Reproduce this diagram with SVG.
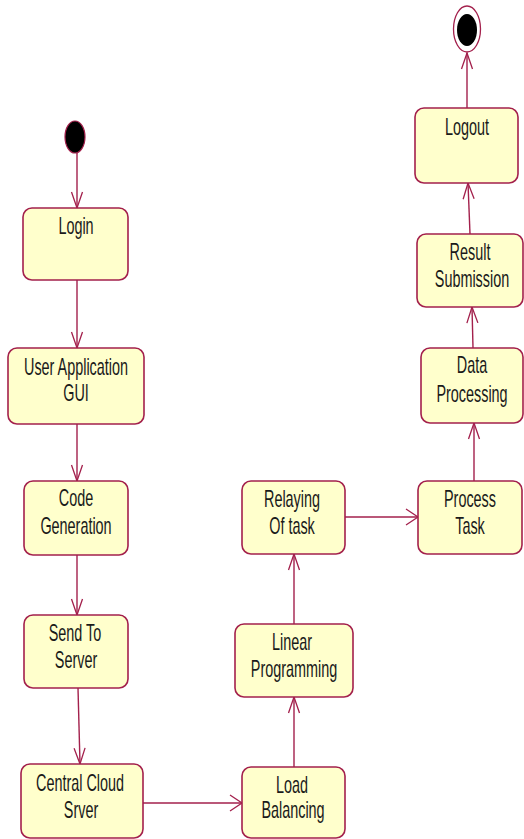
<svg xmlns="http://www.w3.org/2000/svg" width="524" height="839" viewBox="0 0 524 839">
<style>
.box{fill:#FFFFCC;stroke:#A3204C;stroke-width:1.6}
.lbl{font-family:"Liberation Sans",Arial,sans-serif;font-size:24px;fill:#1a1a1a;text-anchor:middle}
.conn{fill:none;stroke:#A3204C;stroke-width:1.4}
.start{fill:#000;stroke:#A3204C;stroke-width:1.2}
</style>
<defs>
<marker id="arrV" markerUnits="userSpaceOnUse" markerWidth="20" markerHeight="14" refX="16" refY="6" orient="auto" overflow="visible">
<path d="M0,0.5 L16,6 L0,11.5" fill="none" stroke="#A3204C" stroke-width="1.3"/>
</marker>
<marker id="arrH" markerUnits="userSpaceOnUse" markerWidth="14" markerHeight="20" refX="12" refY="8" orient="auto" overflow="visible">
<path d="M0,0 L12,8 L0,16" fill="none" stroke="#A3204C" stroke-width="1.3"/>
</marker>
</defs>
<rect width="524" height="839" fill="#fff"/>
<g id="connectors">
<path class="conn" d="M77,153 L77,208" marker-end="url(#arrV)"/>
<path class="conn" d="M77,280 L77,348" marker-end="url(#arrV)"/>
<path class="conn" d="M77,424 L77,481" marker-end="url(#arrV)"/>
<path class="conn" d="M77,555 L77,615" marker-end="url(#arrV)"/>
<path class="conn" d="M78,688 L80,764" marker-end="url(#arrV)"/>
<path class="conn" d="M143,803 L242,803" marker-end="url(#arrH)"/>
<path class="conn" d="M294,767 L294,697" marker-end="url(#arrV)"/>
<path class="conn" d="M294,624 L294,554" marker-end="url(#arrV)"/>
<path class="conn" d="M345,517 L418,517" marker-end="url(#arrH)"/>
<path class="conn" d="M474,481 L474,423" marker-end="url(#arrV)"/>
<path class="conn" d="M473,348 L472,307" marker-end="url(#arrV)"/>
<path class="conn" d="M470,234 L468,183" marker-end="url(#arrV)"/>
<path class="conn" d="M467,108 L467,53" marker-end="url(#arrV)"/>
</g>
<g id="start">
<ellipse class="start" cx="75" cy="137" rx="10" ry="16"/>
</g>
<g id="end">
<ellipse cx="467" cy="29" rx="13.5" ry="23" fill="#fff" stroke="#A3204C" stroke-width="1.3"/>
<ellipse cx="467" cy="30" rx="10" ry="16" fill="#000"/>
</g>
<g id="login">
<rect class="box" x="23" y="208" width="105" height="72" rx="9"/>
<text class="lbl" transform="translate(76,234) scale(0.6,1)">Login</text>
</g>
<g id="user-app-gui">
<rect class="box" x="8" y="348" width="136" height="76" rx="9"/>
<text class="lbl" transform="translate(76,375) scale(0.6,1)">User Application</text>
<text class="lbl" transform="translate(76,401) scale(0.6,1)">GUI</text>
</g>
<g id="code-gen">
<rect class="box" x="24" y="481" width="104" height="74" rx="9"/>
<text class="lbl" transform="translate(76,506) scale(0.6,1)">Code</text>
<text class="lbl" transform="translate(76,534) scale(0.6,1)">Generation</text>
</g>
<g id="send-server">
<rect class="box" x="24" y="615" width="104" height="73" rx="9"/>
<text class="lbl" transform="translate(75,641) scale(0.6,1)">Send To</text>
<text class="lbl" transform="translate(76,668) scale(0.6,1)">Server</text>
</g>
<g id="central-cloud">
<rect class="box" x="21" y="764" width="122" height="74" rx="9"/>
<text class="lbl" transform="translate(80,791) scale(0.6,1)">Central Cloud</text>
<text class="lbl" transform="translate(81,818) scale(0.6,1)">Srver</text>
</g>
<g id="load-balancing">
<rect class="box" x="242" y="767" width="103" height="71" rx="9"/>
<text class="lbl" transform="translate(292,793) scale(0.6,1)">Load</text>
<text class="lbl" transform="translate(293,818) scale(0.6,1)">Balancing</text>
</g>
<g id="linear-programming">
<rect class="box" x="235" y="624" width="118" height="73" rx="9"/>
<text class="lbl" transform="translate(292,650) scale(0.6,1)">Linear</text>
<text class="lbl" transform="translate(294,677) scale(0.6,1)">Programming</text>
</g>
<g id="relaying">
<rect class="box" x="242" y="481" width="103" height="73" rx="9"/>
<text class="lbl" transform="translate(292,507) scale(0.6,1)">Relaying</text>
<text class="lbl" transform="translate(292,534) scale(0.6,1)">Of task</text>
</g>
<g id="process-task">
<rect class="box" x="418" y="481" width="104" height="73" rx="9"/>
<text class="lbl" transform="translate(470,507) scale(0.6,1)">Process</text>
<text class="lbl" transform="translate(470,534) scale(0.6,1)">Task</text>
</g>
<g id="data-processing">
<rect class="box" x="421" y="348" width="102" height="75" rx="9"/>
<text class="lbl" transform="translate(472,373) scale(0.6,1)">Data</text>
<text class="lbl" transform="translate(472,402) scale(0.6,1)">Processing</text>
</g>
<g id="result-submission">
<rect class="box" x="417" y="234" width="106" height="73" rx="9"/>
<text class="lbl" transform="translate(470,260) scale(0.6,1)">Result</text>
<text class="lbl" transform="translate(472,287) scale(0.6,1)">Submission</text>
</g>
<g id="logout">
<rect class="box" x="415" y="108" width="103" height="75" rx="9"/>
<text class="lbl" transform="translate(467,135) scale(0.6,1)">Logout</text>
</g>
</svg>
